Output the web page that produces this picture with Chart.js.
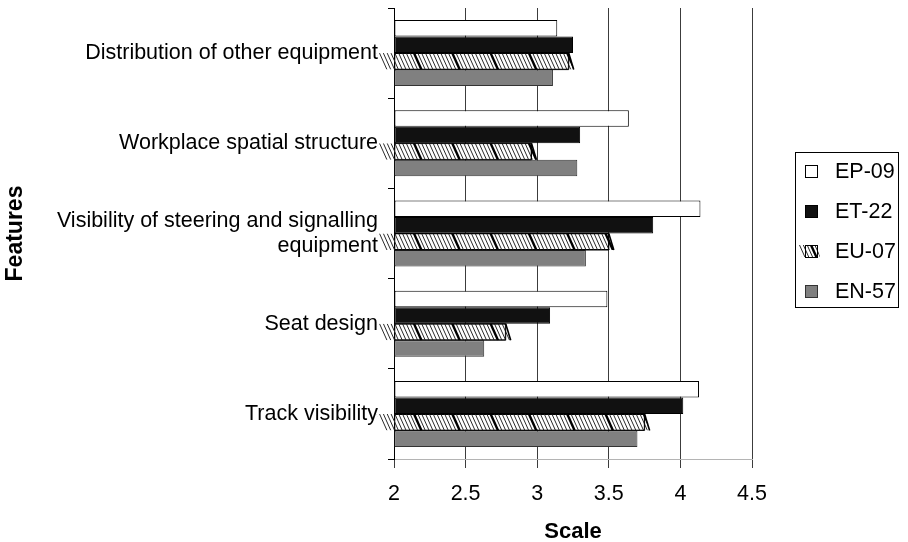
<!DOCTYPE html>
<html>
<head>
<meta charset="utf-8">
<script src="https://cdn.jsdelivr.net/npm/chart.js@4/dist/chart.umd.min.js"></script>
<style>
  html, body { margin: 0; padding: 0; background: #ffffff; }
  #wrap { width: 908px; height: 542px; }
</style>
</head>
<body>
<div id="wrap"><canvas id="chart" width="908" height="542"></canvas></div>
<script>
// Ratings of cab features for four rail vehicle types
const features = [
  'Distribution of other equipment',
  'Workplace spatial structure',
  ['Visibility of steering and signalling', 'equipment'],
  'Seat design',
  'Track visibility'
];
const seriesNames = ['EP-09', 'ET-22', 'EU-07', 'EN-57'];
const ep09 = [3.14, 3.64, 4.14, 3.49, 4.13];
const et22 = [3.25, 3.30, 3.81, 3.09, 4.02];
const eu07 = [3.22, 2.96, 3.50, 2.78, 3.75];
const en57 = [3.11, 3.28, 3.34, 2.63, 3.70];
const scaleTicks = [2, 2.5, 3, 3.5, 4, 4.5];

const FONT = "'Liberation Sans', Arial, Helvetica, sans-serif";

// Diagonal hatching with a heavy stroke every few thin strokes, clipped to a slanted band
function drawHatch(ctx, x0, x1, top, bottom, o) {
  const h = bottom - top;
  const slope = 0.45, thin = 3.83, thick = 38.3;
  ctx.save();
  ctx.beginPath();
  ctx.moveTo(x0 - o.leftTop, top);
  ctx.lineTo(x1, top);
  ctx.lineTo(x1 + o.rightOver, bottom);
  ctx.lineTo(x0 - o.leftBottom, bottom);
  ctx.closePath();
  ctx.clip();
  ctx.lineCap = 'butt';
  ctx.strokeStyle = '#2a2a2a';
  ctx.lineWidth = 1;
  const from = x0 - o.leftTop - h;
  const to = x1 + o.rightOver + 2;
  let k = Math.floor((from - o.phase) / thin);
  for (let sx = o.phase + k * thin; sx < to; sx += thin) {
    ctx.beginPath();
    ctx.moveTo(sx, top);
    ctx.lineTo(sx + slope * h, bottom);
    ctx.stroke();
  }
  ctx.strokeStyle = '#000000';
  ctx.lineWidth = 2.4;
  k = Math.floor((x0 - o.phase) / thick);
  for (let sx = o.phase + k * thick; sx < to; sx += thick) {
    if (sx < x0 - 1) continue;
    ctx.beginPath();
    ctx.moveTo(sx, top);
    ctx.lineTo(sx + slope * h, bottom);
    ctx.stroke();
  }
  ctx.restore();
}

const hatchPlugin = {
  id: 'hatchBars',
  afterDatasetsDraw(chart) {
    const ctx = chart.ctx;
    chart.data.datasets.forEach((ds, i) => {
      if (!ds.hatched) return;
      const meta = chart.getDatasetMeta(i);
      if (meta.hidden) return;
      meta.data.forEach(el => {
        const p = el.getProps(['x', 'y', 'base', 'height'], true);
        const top = p.y - p.height / 2, bottom = p.y + p.height / 2;
        const x0 = Math.min(p.base, p.x), x1 = Math.max(p.base, p.x);
        drawHatch(ctx, x0, x1, top, bottom, {leftTop: 18, leftBottom: 9, rightOver: 5, phase: x0 + 19.5});
        ctx.save();
        ctx.strokeStyle = '#000000';
        ctx.lineWidth = 1;
        ctx.beginPath();
        ctx.moveTo(x0, top); ctx.lineTo(x1, top);
        ctx.lineTo(x1, bottom); ctx.lineTo(x0, bottom);
        ctx.stroke();
        ctx.lineWidth = 1.6;
        ctx.beginPath();
        ctx.moveTo(x1, top); ctx.lineTo(x1 + 5, bottom);
        ctx.stroke();
        ctx.restore();
      });
    });
  }
};

// Boxed legend to the right of the plot
const legendPlugin = {
  id: 'boxedLegend',
  afterDraw(chart) {
    const ctx = chart.ctx;
    const ca = chart.chartArea;
    const left = ca.right + 43, top = ca.top + 144, w = 103, h = 155;
    ctx.save();
    ctx.strokeStyle = '#000000';
    ctx.lineWidth = 1;
    ctx.strokeRect(Math.round(left) + 0.5, Math.round(top) + 0.5, w, h);
    ctx.font = '21.5px ' + FONT;
    ctx.textBaseline = 'alphabetic';
    ctx.textAlign = 'left';
    chart.data.datasets.forEach((ds, i) => {
      const base = top + 26 + i * 40.1;
      const cy = base - 7.5;
      const mx = Math.round(left + 10), my = Math.round(cy - 6);
      const s = 12;
      if (ds.hatched) {
        ctx.fillStyle = '#ffffff';
        ctx.fillRect(mx, my, s, s);
        drawHatch(ctx, mx, mx + s, my, my + s, {leftTop: 8, leftBottom: 3, rightOver: 3, phase: mx + 6});
        ctx.strokeStyle = '#000000';
        ctx.lineWidth = 1;
        ctx.strokeRect(mx + 0.5, my + 0.5, s, s);
      } else {
        ctx.fillStyle = ds.backgroundColor;
        ctx.fillRect(mx + 0.5, my + 0.5, s, s);
        ctx.strokeStyle = ds.borderColor;
        ctx.lineWidth = 1;
        ctx.strokeRect(mx + 0.5, my + 0.5, s, s);
      }
      ctx.fillStyle = '#000000';
      ctx.fillText(ds.label, left + 40, base);
    });
    ctx.restore();
  }
};

const barCommon = {
  base: scaleTicks[0],
  borderWidth: 1,
  borderSkipped: false,
  barPercentage: 1.0,
  categoryPercentage: 0.732
};

new Chart(document.getElementById('chart'), {
  type: 'bar',
  data: {
    labels: features,
    datasets: [
      Object.assign({label: seriesNames[0], data: ep09, backgroundColor: '#ffffff', borderColor: '#000000'}, barCommon),
      Object.assign({label: seriesNames[1], data: et22, backgroundColor: '#111111', borderColor: '#000000'}, barCommon),
      Object.assign({label: seriesNames[2], data: eu07, backgroundColor: '#ffffff', borderColor: '#000000', hatched: true}, barCommon),
      Object.assign({label: seriesNames[3], data: en57, backgroundColor: '#808080', borderColor: '#333333'}, barCommon)
    ]
  },
  options: {
    indexAxis: 'y',
    responsive: false,
    animation: false,
    devicePixelRatio: 1,
    layout: { padding: { top: 8, right: 156, bottom: 0, left: 0 } },
    plugins: {
      legend: { display: false },
      tooltip: { enabled: false }
    },
    scales: {
      x: {
        type: 'linear',
        min: scaleTicks[0],
        max: scaleTicks[scaleTicks.length - 1],
        afterBuildTicks(scale) { scale.ticks = scaleTicks.map(v => ({value: v})); },
        afterFit(scale) { scale.height = 83; scale.paddingLeft = 0; scale.paddingRight = 0; },
        grid: { color: '#3c3c3c', lineWidth: 1, tickLength: 9, drawOnChartArea: true },
        border: { display: true, color: '#b4b4b4', width: 1 },
        ticks: {
          color: '#000000', font: { family: FONT, size: 21.5 }, padding: 13, maxRotation: 0,
          callback: v => String(v)
        },
        title: {
          display: true, text: 'Scale', color: '#000000',
          font: { family: FONT, size: 22, weight: 'bold', lineHeight: 0.9 },
          padding: 0
        }
      },
      y: {
        type: 'category',
        z: 1,
        afterFit(scale) { scale.width = 394; scale.paddingTop = 0; scale.paddingBottom = 0; },
        grid: { color: '#000000', lineWidth: 1, tickLength: 6, drawOnChartArea: false, offset: true },
        border: { display: true, color: '#000000', width: 1 },
        ticks: { color: '#000000', font: { family: FONT, size: 21.5 }, padding: 10, autoSkip: false },
        title: {
          display: true, text: 'Features', color: '#000000',
          font: { family: FONT, size: 23, weight: 'bold' },
          padding: { top: 2, bottom: 0 }
        }
      }
    }
  },
  plugins: [hatchPlugin, legendPlugin]
});
</script>
</body>
</html>
